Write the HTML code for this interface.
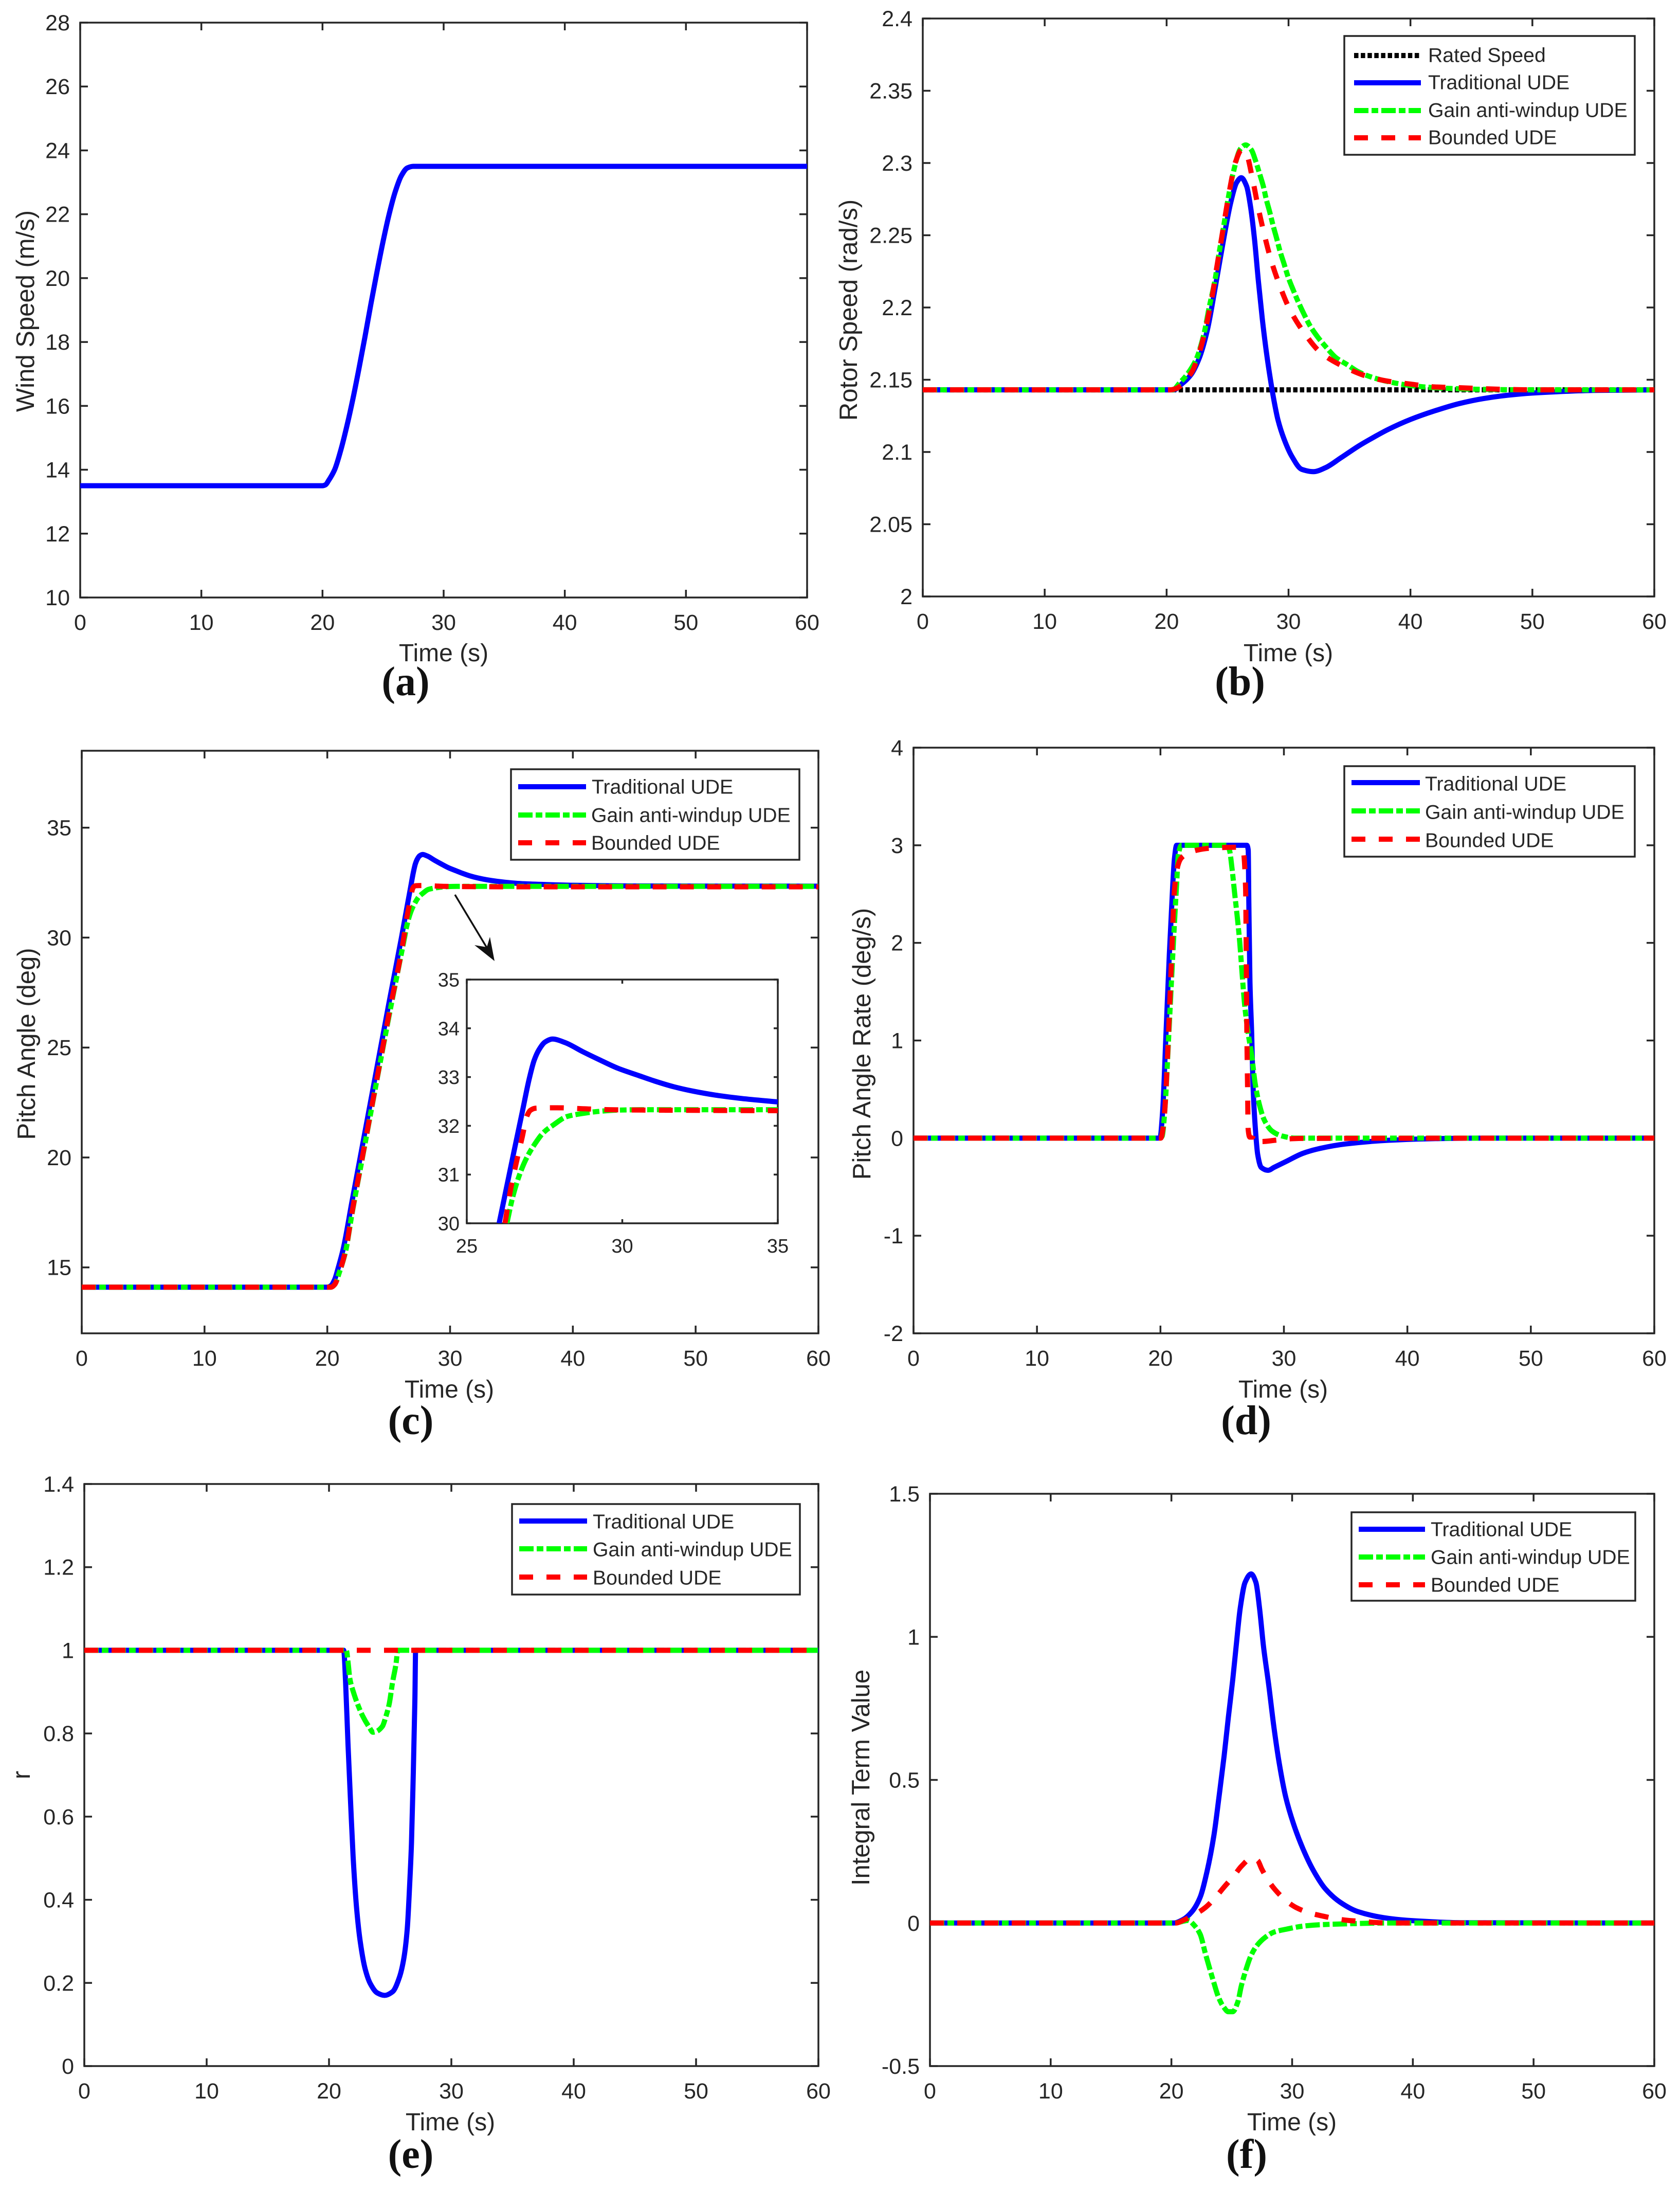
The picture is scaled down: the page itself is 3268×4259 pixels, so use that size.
<!DOCTYPE html>
<html lang="en">
<head>
<meta charset="utf-8">
<title>Wind turbine UDE control results</title>
<style>
html,body{margin:0;padding:0;background:#fff;}
svg{display:block;}
text{font-family:"Liberation Sans",Arial,sans-serif;fill:#262626;}
.tick{font-size:43px;}
.itick{font-size:38px;}
.lab{font-size:48px;text-anchor:middle;}
.ylab{font-size:49px;text-anchor:middle;}
.leg{font-size:39.2px;dominant-baseline:central;}
.cap{font-family:"Liberation Serif",serif;font-weight:bold;font-size:80px;text-anchor:middle;fill:#111;}
.frame{fill:none;stroke:#262626;stroke-width:3.5;}
.box{fill:#fff;stroke:#262626;stroke-width:3.5;}
.s{fill:none;stroke-width:10;stroke-linejoin:round;stroke-linecap:butt;}
.rated{stroke:#000;stroke-dasharray:8.5 4.6;}
.trad{stroke:#0000ff;}
.gain{stroke:#00ff00;stroke-dasharray:28 6 13 6;}
.bound{stroke:#ff0000;stroke-dasharray:27 26;}
</style>
</head>
<body>
<svg id="figure" xmlns="http://www.w3.org/2000/svg" width="3268" height="4259" viewBox="0 0 3268 4259">
<rect x="0" y="0" width="3268" height="4259" fill="#fff"/>
<defs>
<clipPath id="clip-a"><rect x="156" y="44" width="1414" height="1118"/></clipPath>
<clipPath id="clip-b"><rect x="1795" y="36" width="1423" height="1124"/></clipPath>
<clipPath id="clip-c"><rect x="159" y="1460" width="1433" height="1133"/></clipPath>
<clipPath id="clip-inset"><rect x="908" y="1905" width="605" height="474"/></clipPath>
<clipPath id="clip-d"><rect x="1777" y="1454" width="1441" height="1139"/></clipPath>
<clipPath id="clip-e"><rect x="164" y="2886" width="1428" height="1132"/></clipPath>
<clipPath id="clip-f"><rect x="1809" y="2905" width="1409" height="1113"/></clipPath>
</defs>

<!-- Panel a -->
<g id="panel-a">
<rect class="frame" x="156" y="44" width="1414" height="1118"/>
<g id="ticks-a"></g>
<g id="marks-a" clip-path="url(#clip-a)"></g>
<text class="ylab" transform="translate(66,605) rotate(-90)">Wind Speed (m/s)</text>
<text class="lab" x="863" y="1286">Time (s)</text>
<text class="cap" x="789" y="1352">(a)</text>
</g>

<!-- Panel b -->
<g id="panel-b">
<rect class="frame" x="1795" y="36" width="1423" height="1124"/>
<g id="ticks-b"></g>
<g id="marks-b" clip-path="url(#clip-b)"></g>
<text class="ylab" transform="translate(1667,603) rotate(-90)">Rotor Speed (rad/s)</text>
<text class="lab" x="2506" y="1286">Time (s)</text>
<text class="cap" x="2412" y="1352">(b)</text>
<g>
<rect class="box" x="2615" y="70" width="565" height="231"/>
<path class="s rated" d="M2634 108H2764"/>
<text class="leg" x="2778" y="108">Rated Speed</text>
<path class="s trad" d="M2634 161H2764"/>
<text class="leg" x="2778" y="161">Traditional UDE</text>
<path class="s gain" d="M2634 215H2764"/>
<text class="leg" x="2778" y="215">Gain anti-windup UDE</text>
<path class="s bound" d="M2634 268H2764"/>
<text class="leg" x="2778" y="268">Bounded UDE</text>
</g>
</g>

<!-- Panel c -->
<g id="panel-c">
<rect class="frame" x="159" y="1460" width="1433" height="1133"/>
<g id="ticks-c"></g>
<g id="marks-c" clip-path="url(#clip-c)"></g>
<text class="ylab" transform="translate(68,2030) rotate(-90)">Pitch Angle (deg)</text>
<text class="lab" x="874" y="2718">Time (s)</text>
<text class="cap" x="799" y="2789">(c)</text>
<g>
<rect class="box" x="994" y="1496" width="561" height="176"/>
<path class="s trad" d="M1008 1530H1140"/>
<text class="leg" x="1151" y="1531">Traditional UDE</text>
<path class="s gain" d="M1008 1585H1140"/>
<text class="leg" x="1150" y="1586">Gain anti-windup UDE</text>
<path class="s bound" d="M1008 1639H1140"/>
<text class="leg" x="1150" y="1640">Bounded UDE</text>
</g>
<g>
<path d="M885 1740L950 1848" fill="none" stroke="#111" stroke-width="3.5"/>
<path d="M962 1869L923 1838L947 1842L953 1822Z" fill="#111"/>
</g>
<g>
<rect class="box" x="908" y="1905" width="605" height="474"/>
<g id="ticks-inset"></g>
<g id="marks-inset" clip-path="url(#clip-inset)"></g>
</g>
</g>

<!-- Panel d -->
<g id="panel-d">
<rect class="frame" x="1777" y="1454" width="1441" height="1139"/>
<g id="ticks-d"></g>
<g id="marks-d" clip-path="url(#clip-d)"></g>
<text class="ylab" transform="translate(1693,2030) rotate(-90)">Pitch Angle Rate (deg/s)</text>
<text class="lab" x="2496" y="2718">Time (s)</text>
<text class="cap" x="2424" y="2789">(d)</text>
<g>
<rect class="box" x="2615" y="1490" width="565" height="176"/>
<path class="s trad" d="M2629 1522H2762"/>
<text class="leg" x="2772" y="1525">Traditional UDE</text>
<path class="s gain" d="M2629 1577H2762"/>
<text class="leg" x="2772" y="1580">Gain anti-windup UDE</text>
<path class="s bound" d="M2629 1632H2762"/>
<text class="leg" x="2772" y="1635">Bounded UDE</text>
</g>
</g>

<!-- Panel e -->
<g id="panel-e">
<rect class="frame" x="164" y="2886" width="1428" height="1132"/>
<g id="ticks-e"></g>
<g id="marks-e" clip-path="url(#clip-e)"></g>
<text class="ylab" transform="translate(58,3452) rotate(-90)">r</text>
<text class="lab" x="876" y="4143">Time (s)</text>
<text class="cap" x="799" y="4216">(e)</text>
<g>
<rect class="box" x="996" y="2925" width="560" height="176"/>
<path class="s trad" d="M1010 2958H1142"/>
<text class="leg" x="1153" y="2960">Traditional UDE</text>
<path class="s gain" d="M1010 3012H1142"/>
<text class="leg" x="1153" y="3014">Gain anti-windup UDE</text>
<path class="s bound" d="M1010 3067H1142"/>
<text class="leg" x="1153" y="3069">Bounded UDE</text>
</g>
</g>

<!-- Panel f -->
<g id="panel-f">
<rect class="frame" x="1809" y="2905" width="1409" height="1113"/>
<g id="ticks-f"></g>
<g id="marks-f" clip-path="url(#clip-f)"></g>
<text class="ylab" transform="translate(1691,3457) rotate(-90)">Integral Term Value</text>
<text class="lab" x="2513" y="4143">Time (s)</text>
<text class="cap" x="2425" y="4216">(f)</text>
<g>
<rect class="box" x="2629" y="2941" width="552" height="172"/>
<path class="s trad" d="M2643 2974H2772"/>
<text class="leg" x="2783" y="2975">Traditional UDE</text>
<path class="s gain" d="M2643 3028H2772"/>
<text class="leg" x="2783" y="3029">Gain anti-windup UDE</text>
<path class="s bound" d="M2643 3082H2772"/>
<text class="leg" x="2783" y="3083">Bounded UDE</text>
</g>
</g>
</svg>

<script>
// ---- Tick labels ----
const timeTicks = [0, 10, 20, 30, 40, 50, 60];
const insetTimeTicks = [25, 30, 35];
const insetAngleTicks = [30, 31, 32, 33, 34, 35];
const windTicks = [10, 12, 14, 16, 18, 20, 22, 24, 26, 28];
const rotorTicks = ['2', '2.05', '2.1', '2.15', '2.2', '2.25', '2.3', '2.35', '2.4'];
const angleTicks = [15, 20, 25, 30, 35];
const rateTicks = [-2, -1, 0, 1, 2, 3, 4];
const rTicks = ['0', '0.2', '0.4', '0.6', '0.8', '1', '1.2', '1.4'];
const integralTicks = ['-0.5', '0', '0.5', '1', '1.5'];

// ---- (a) wind speed ----
const windT = [0, 20, 20.25, 20.5, 21, 21.5, 22, 22.5, 23, 23.5, 24, 24.5, 25, 25.5, 26, 26.5, 27, 27.5, 60];
const windV = [13.5, 13.5, 13.53, 13.66, 14.0, 14.6, 15.35, 16.2, 17.15, 18.15, 19.2, 20.2, 21.15, 22.0, 22.7, 23.2, 23.45, 23.5, 23.5];

// ---- (b) rotor speed ----
const ratedT = [0, 60];
const ratedV = [2.143, 2.143];
const rotorTradT = [0, 20.58, 21.23, 22, 22.68, 23.33, 23.97, 24.62, 25.27, 25.75, 26.12, 26.56, 26.88, 27.2, 27.53, 27.85, 28.17, 28.5, 28.82, 29.14, 29.63, 30.27, 31.08, 32.05, 33, 34.3, 35.76, 37.05, 38.15, 40, 42, 44, 46, 48, 50, 52, 55, 60];
const rotorTradV = [2.143, 2.143, 2.147, 2.1535, 2.165, 2.184, 2.213, 2.2445, 2.273, 2.2866, 2.2898, 2.284, 2.27, 2.248, 2.218, 2.192, 2.17, 2.151, 2.135, 2.122, 2.109, 2.097, 2.088, 2.0864, 2.089, 2.096, 2.1042, 2.1105, 2.1155, 2.1225, 2.1285, 2.1335, 2.137, 2.1393, 2.1408, 2.1417, 2.1426, 2.143];
const rotorGainT = [0, 20.5, 21.07, 21.71, 22.44, 23.09, 23.49, 23.97, 24.3, 24.67, 25.02, 25.43, 26.07, 26.48, 26.96, 27.28, 27.61, 27.93, 28.17, 28.46, 28.74, 29.03, 29.3, 29.63, 29.98, 30.39, 30.79, 31.27, 31.76, 32.4, 33.1, 33.9, 34.8, 35.68, 36.57, 37.86, 40, 42, 45, 50, 60];
const rotorGainV = [2.143, 2.143, 2.1478, 2.154, 2.1644, 2.1827, 2.2, 2.219, 2.2374, 2.2557, 2.274, 2.292, 2.31, 2.3125, 2.309, 2.302, 2.293, 2.284, 2.275, 2.266, 2.2565, 2.2477, 2.239, 2.2303, 2.2208, 2.212, 2.204, 2.1954, 2.1874, 2.1795, 2.1724, 2.1652, 2.1605, 2.1557, 2.1525, 2.1493, 2.146, 2.1445, 2.1435, 2.143, 2.143];
const rotorBoundT = [0, 20.3, 20.74, 22.04, 22.81, 23.33, 23.76, 24.1, 24.46, 24.81, 25.19, 25.64, 26.15, 26.53, 27.07, 27.49, 27.98, 28.54, 29.24, 30.11, 31.24, 32.61, 34.55, 36.57, 38.15, 40, 42, 44, 47, 50, 60];
const rotorBoundV = [2.143, 2.143, 2.1438, 2.155, 2.1724, 2.1906, 2.2089, 2.2271, 2.2454, 2.2636, 2.2823, 2.3004, 2.309, 2.3065, 2.288, 2.27, 2.2517, 2.2335, 2.216, 2.1985, 2.183, 2.169, 2.159, 2.152, 2.149, 2.147, 2.145, 2.1445, 2.1435, 2.143, 2.143];

// ---- (c) pitch angle ----
const angleTradT = [0, 20, 20.3, 20.6, 20.9, 21.3, 22, 23, 24, 25, 26.04, 26.51, 26.78, 27.01, 27.17, 27.33, 27.52, 27.76, 28.15, 28.73, 29.28, 29.86, 30.53, 31.03, 31.66, 32.28, 32.99, 33.84, 35, 36, 38, 40, 45, 60];
const angleTradV = [14.1, 14.1, 14.17, 14.45, 15, 15.85, 17.96, 20.96, 23.96, 26.96, 30, 31.45, 32.27, 32.97, 33.35, 33.57, 33.72, 33.78, 33.71, 33.52, 33.35, 33.18, 33.03, 32.92, 32.8, 32.71, 32.63, 32.56, 32.49, 32.45, 32.41, 32.38, 32.35, 32.34];
const angleGainT = [0, 20.3, 20.6, 21, 21.5, 22, 23, 24, 25, 26.29, 26.47, 26.66, 26.9, 27.17, 27.48, 27.79, 28.22, 28.69, 29.16, 29.79, 30.57, 35, 60];
const angleGainV = [14.1, 14.1, 14.22, 14.8, 15.75, 17.4, 20.4, 23.4, 26.35, 30, 30.52, 30.93, 31.31, 31.61, 31.87, 32.02, 32.19, 32.25, 32.29, 32.32, 32.33, 32.33, 32.33];
const angleBoundT = [0, 20.3, 20.6, 21, 21.5, 22, 23, 24, 25, 26.23, 26.39, 26.58, 26.78, 26.94, 27.05, 27.21, 27.91, 28.73, 29.59, 31.35, 35, 60];
const angleBoundV = [14.1, 14.1, 14.22, 14.8, 15.8, 17.45, 20.45, 23.45, 26.45, 30, 30.63, 31.21, 31.76, 32.21, 32.32, 32.36, 32.37, 32.35, 32.33, 32.32, 32.31, 32.31];

// ---- (d) pitch angle rate ----
const rateTradT = [0, 19.96, 20.17, 20.45, 20.72, 21, 21.14, 21.31, 27, 27.11, 27.16, 27.25, 27.39, 27.5, 27.67, 27.88, 28.16, 28.72, 29.2, 30.17, 31.56, 32.95, 35, 38.5, 42, 46, 60];
const rateTradV = [0, 0, 0.26, 1.07, 1.88, 2.6, 2.87, 3, 3, 2.95, 2.41, 1.6, 1.07, 0.53, 0.13, -0.17, -0.3, -0.33, -0.3, -0.24, -0.155, -0.105, -0.06, -0.022, -0.006, 0, 0];
const rateGainT = [0, 20, 20.14, 20.34, 20.68, 21, 21.31, 21.45, 21.7, 25.38, 25.59, 25.8, 26, 26.21, 26.42, 26.63, 26.84, 27.11, 27.39, 27.67, 28.02, 28.43, 29.06, 29.89, 30.86, 60];
const rateGainV = [0, 0, 0.02, 0.26, 1.07, 1.88, 2.6, 2.9, 3, 3, 2.95, 2.76, 2.52, 2.28, 2.01, 1.66, 1.34, 1.07, 0.85, 0.56, 0.34, 0.18, 0.07, 0.02, 0, 0];
const rateBoundT = [0, 20.03, 20.24, 20.38, 20.59, 20.86, 21.14, 21.35, 21.63, 21.97, 22.95, 24.06, 26.28, 26.69, 26.9, 26.95, 27, 27.06, 27.1, 27.24, 27.45, 27.6, 28.2, 29.3, 30.4, 31.5, 60];
const rateBoundV = [0, 0, 0.13, 0.34, 0.88, 1.71, 2.55, 2.76, 2.86, 2.9, 2.95, 2.97, 2.98, 2.95, 2.55, 1.88, 1.07, 0.5, 0.1, 0.01, 0.01, 0.04, -0.035, -0.022, -0.008, -0.003, 0];

// ---- (e) r ----
const rTradT = [0, 21.2, 21.35, 21.55, 21.77, 21.97, 22.26, 22.54, 22.96, 23.38, 23.94, 24.54, 25.2, 25.76, 26.11, 26.39, 26.6, 26.74, 26.88, 27.02, 27.08, 60];
const rTradV = [1, 1, 0.927, 0.776, 0.63, 0.504, 0.378, 0.302, 0.233, 0.198, 0.176, 0.17, 0.179, 0.214, 0.258, 0.328, 0.441, 0.536, 0.694, 0.883, 1, 1];
const rGainT = [0, 21.41, 21.58, 21.69, 22, 22.33, 22.75, 23.31, 23.59, 23.8, 24.36, 24.64, 24.92, 25.2, 25.48, 25.62, 60];
const rGainV = [1, 1, 0.965, 0.934, 0.899, 0.871, 0.842, 0.814, 0.803, 0.804, 0.817, 0.84, 0.871, 0.924, 0.968, 1, 1];
const rBoundT = [0, 60];
const rBoundV = [1, 1];

// ---- (f) integral term ----
const intTradT = [0, 20.2, 20.96, 21.67, 22.38, 22.95, 23.52, 23.94, 24.37, 24.72, 25.08, 25.36, 25.7, 26.1, 26.6, 27, 27.3, 27.63, 28.06, 28.48, 28.91, 29.47, 30.11, 30.89, 31.74, 32.74, 34, 35.43, 38, 40, 44, 60];
const intTradV = [0, 0, 0.012, 0.038, 0.09, 0.18, 0.306, 0.44, 0.585, 0.72, 0.85, 0.966, 1.1, 1.19, 1.22, 1.19, 1.1, 0.966, 0.832, 0.688, 0.564, 0.44, 0.347, 0.26, 0.185, 0.12, 0.072, 0.04, 0.016, 0.008, 0.001, 0];
const intGainT = [0, 20.26, 21.39, 21.89, 22.38, 22.81, 23.16, 23.52, 23.87, 24.3, 24.72, 25.08, 25.5, 25.79, 26.14, 26.57, 27.06, 27.77, 28.48, 29.47, 30.89, 32.31, 34.4, 38, 60];
const intGainV = [0, 0, 0.009, -0.008, -0.039, -0.106, -0.158, -0.209, -0.256, -0.292, -0.31, -0.31, -0.276, -0.22, -0.168, -0.116, -0.08, -0.05, -0.032, -0.022, -0.011, -0.006, -0.003, 0, 0];
const intBoundT = [0, 20.4, 20.96, 21.96, 22.81, 23.66, 24.37, 25.22, 25.79, 26.64, 27.13, 27.49, 28.06, 28.62, 29.47, 30.33, 31.46, 32.45, 33.59, 34.65, 35.72, 36.85, 38, 60];
const intBoundV = [0, 0, 0.009, 0.03, 0.054, 0.09, 0.126, 0.167, 0.198, 0.226, 0.219, 0.188, 0.146, 0.115, 0.079, 0.054, 0.035, 0.025, 0.015, 0.009, 0.006, 0.002, 0, 0];

const NS = 'http://www.w3.org/2000/svg';

function axis(L, R, T, B, xmin, xmax, ymin, ymax) {
  return {
    L: L, R: R, T: T, B: B,
    x: function (t) { return L + (t - xmin) / (xmax - xmin) * (R - L); },
    y: function (v) { return B - (v - ymin) / (ymax - ymin) * (B - T); }
  };
}

// Renders read points as a shape-preserving curve (no overshoot at flat-to-steep knees).
function curvePath(px, py) {
  const n = px.length;
  if (n < 3) {
    return 'M' + px[0].toFixed(2) + ' ' + py[0].toFixed(2) + 'L' + px[n - 1].toFixed(2) + ' ' + py[n - 1].toFixed(2);
  }
  const h = [];
  const s = [];
  for (let i = 0; i < n - 1; i++) {
    h.push(px[i + 1] - px[i]);
    s.push((py[i + 1] - py[i]) / h[i]);
  }
  const m = [s[0]];
  for (let i = 1; i < n - 1; i++) {
    if (s[i - 1] * s[i] <= 0) { m.push(0); continue; }
    const w1 = 2 * h[i] + h[i - 1];
    const w2 = h[i] + 2 * h[i - 1];
    m.push((w1 + w2) / (w1 / s[i - 1] + w2 / s[i]));
  }
  m.push(s[n - 2]);
  let d = 'M' + px[0].toFixed(2) + ' ' + py[0].toFixed(2);
  for (let i = 0; i < n - 1; i++) {
    d += 'C' + (px[i] + h[i] / 3).toFixed(2) + ' ' + (py[i] + m[i] * h[i] / 3).toFixed(2) +
      ' ' + (px[i + 1] - h[i] / 3).toFixed(2) + ' ' + (py[i + 1] - m[i + 1] * h[i] / 3).toFixed(2) +
      ' ' + px[i + 1].toFixed(2) + ' ' + py[i + 1].toFixed(2);
  }
  return d;
}

function drawSeries(groupId, ax, cls, name, ts, vs) {
  const g = document.getElementById(groupId);
  const el = document.createElementNS(NS, 'path');
  el.setAttribute('d', curvePath(ts.map(ax.x), vs.map(ax.y)));
  el.setAttribute('class', 's ' + cls);
  
  
  g.appendChild(el);
}

function drawInsetSeries(groupId, ax, cls, name, ts, vs) {
  const keepT = [];
  const keepV = [];
  for (let i = 0; i < ts.length; i++) {
    if (vs[i] >= 30 && ts[i] <= 35) { keepT.push(ts[i]); keepV.push(vs[i]); }
    else if (ts[i] > 35 && keepT.length && keepT[keepT.length - 1] < 35) { keepT.push(ts[i]); keepV.push(vs[i]); }
  }
  drawSeries(groupId, ax, cls, name, keepT, keepV);
}

function drawTicks(groupId, ax, xTicks, yTicks, tickLen, cls, labelGapX, labelGapY) {
  const g = document.getElementById(groupId);
  function tickLine(d, name) {
    const el = document.createElementNS(NS, 'path');
    el.setAttribute('d', d);
    el.setAttribute('fill', 'none');
    el.setAttribute('stroke', '#262626');
    el.setAttribute('stroke-width', '3.5');
    
    
    g.appendChild(el);
  }
  function label(str, x, y, anchor, name) {
    const el = document.createElementNS(NS, 'text');
    el.setAttribute('x', x);
    el.setAttribute('y', y);
    el.setAttribute('text-anchor', anchor);
    el.setAttribute('class', cls);
    el.textContent = str;
    
    
    g.appendChild(el);
  }
  xTicks.forEach(function (t) {
    const px = ax.x(+t);
    tickLine('M' + px + ' ' + ax.B + 'V' + (ax.B - tickLen) + 'M' + px + ' ' + ax.T + 'V' + (ax.T + tickLen), 'x-tick-mark');
    label(String(t), px, ax.B + labelGapX, 'middle', 'x-tick-label');
  });
  yTicks.forEach(function (v) {
    const py = ax.y(+v);
    tickLine('M' + ax.L + ' ' + py + 'H' + (ax.L + tickLen) + 'M' + ax.R + ' ' + py + 'H' + (ax.R - tickLen), 'y-tick-mark');
    label(String(v), ax.L - labelGapY, py + (cls === 'tick' ? 15 : 13.5), 'end', 'y-tick-label');
  });
}

const axA = axis(156, 1570, 44, 1162, 0, 60, 10, 28);
const axB = axis(1795, 3218, 36, 1160, 0, 60, 2, 2.4);
const axC = axis(159, 1592, 1460, 2593, 0, 60, 12, 38.5);
const axInset = axis(908, 1513, 1905, 2379, 25, 35, 30, 35);
const axD = axis(1777, 3218, 1454, 2593, 0, 60, -2, 4);
const axE = axis(164, 1592, 2886, 4018, 0, 60, 0, 1.4);
const axF = axis(1809, 3218, 2905, 4018, 0, 60, -0.5, 1.5);

drawTicks('ticks-a', axA, timeTicks, windTicks, 15, 'tick', 63, 20);
drawTicks('ticks-b', axB, timeTicks, rotorTicks, 15, 'tick', 63, 20);
drawTicks('ticks-c', axC, timeTicks, angleTicks, 15, 'tick', 63, 20);
drawTicks('ticks-inset', axInset, insetTimeTicks, insetAngleTicks, 8, 'itick', 57, 14);
drawTicks('ticks-d', axD, timeTicks, rateTicks, 15, 'tick', 63, 20);
drawTicks('ticks-e', axE, timeTicks, rTicks, 15, 'tick', 63, 20);
drawTicks('ticks-f', axF, timeTicks, integralTicks, 15, 'tick', 63, 20);

drawSeries('marks-a', axA, 'trad', 'wind-speed-line', windT, windV);

drawSeries('marks-b', axB, 'rated', 'rated-speed-line', ratedT, ratedV);
drawSeries('marks-b', axB, 'trad', 'traditional-ude-line', rotorTradT, rotorTradV);
drawSeries('marks-b', axB, 'gain', 'gain-anti-windup-ude-line', rotorGainT, rotorGainV);
drawSeries('marks-b', axB, 'bound', 'bounded-ude-line', rotorBoundT, rotorBoundV);

drawSeries('marks-c', axC, 'trad', 'traditional-ude-line', angleTradT, angleTradV);
drawSeries('marks-c', axC, 'gain', 'gain-anti-windup-ude-line', angleGainT, angleGainV);
drawSeries('marks-c', axC, 'bound', 'bounded-ude-line', angleBoundT, angleBoundV);

drawInsetSeries('marks-inset', axInset, 'trad', 'inset-traditional-ude-line', angleTradT, angleTradV);
drawInsetSeries('marks-inset', axInset, 'gain', 'inset-gain-anti-windup-ude-line', angleGainT, angleGainV);
drawInsetSeries('marks-inset', axInset, 'bound', 'inset-bounded-ude-line', angleBoundT, angleBoundV);

drawSeries('marks-d', axD, 'trad', 'traditional-ude-line', rateTradT, rateTradV);
drawSeries('marks-d', axD, 'gain', 'gain-anti-windup-ude-line', rateGainT, rateGainV);
drawSeries('marks-d', axD, 'bound', 'bounded-ude-line', rateBoundT, rateBoundV);

drawSeries('marks-e', axE, 'trad', 'traditional-ude-line', rTradT, rTradV);
drawSeries('marks-e', axE, 'gain', 'gain-anti-windup-ude-line', rGainT, rGainV);
drawSeries('marks-e', axE, 'bound', 'bounded-ude-line', rBoundT, rBoundV);

drawSeries('marks-f', axF, 'trad', 'traditional-ude-line', intTradT, intTradV);
drawSeries('marks-f', axF, 'gain', 'gain-anti-windup-ude-line', intGainT, intGainV);
drawSeries('marks-f', axF, 'bound', 'bounded-ude-line', intBoundT, intBoundV);
</script>
</body>
</html>
